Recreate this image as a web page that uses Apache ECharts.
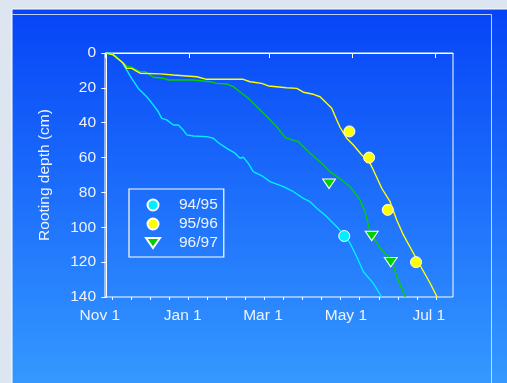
<!DOCTYPE html>
<html>
<head>
<meta charset="utf-8">
<script src="https://cdn.jsdelivr.net/npm/echarts@6/dist/echarts.min.js"></script>
<style>
  html, body { margin: 0; padding: 0; background: #dde6f0; }
  #chart { width: 507px; height: 383px; }
</style>
</head>
<body>
<div id="chart"></div>
<script>
// x: days counted from 1 November; y: rooting depth in cm
var tickLabels = ['Nov 1', 'Jan 1', 'Mar 1', 'May 1', 'Jul 1'];
var tickLabelDays = [0, 61, 120, 181, 242];
var majorTickDays = [-1, 61, 120, 181, 242];
var minorTickDays = [4.4, 18.4, 32.4, 46.4, 60.4, 74.4, 88.4, 102.4, 116.4, 130.4,
                     144.4, 158.4, 172.4, 186.4, 200.4, 214.4, 228.4, 242.4];

var seasons = ['94/95', '95/96', '96/97'];

// simulated rooting depth through the season
var line9495 = [
  [0, 0], [3.9, 0], [11.3, 5], [15, 9.8], [18.6, 14.5], [23.5, 20.3], [29.7, 25.1],
  [34.5, 29.8], [38.2, 33.7], [40.7, 37.5], [44.4, 38.4], [49.3, 41.3], [52.9, 41.3],
  [56.6, 44.2], [59.1, 47], [64, 47.6], [73.8, 48], [78.7, 48.9], [82.4, 51.5],
  [88.6, 54.7], [94.7, 57.5], [98.3, 60.4], [100.8, 59.8], [104.4, 63.3], [108.1, 68.1],
  [115.5, 71], [120.4, 73.8], [130.2, 76.7], [137.6, 79.6], [144.9, 83.4], [149.8, 85.3],
  [154.8, 89.1], [162.1, 93.9], [169.5, 99.7], [175.1, 104.4], [179.3, 109.2],
  [184.2, 116.9], [189.1, 125.5], [196.4, 132.2], [202.5, 140]
];
var line9596 = [
  [0, 0], [5.1, 1.1], [12.5, 5.9], [15, 8.8], [18.6, 8.8], [24.8, 11.6], [39.5, 12],
  [49.3, 12.6], [50.5, 13.2], [66.5, 13.6], [73.8, 15.1], [100.8, 15.1], [105.7, 16.5],
  [114.3, 17.4], [119.2, 18.9], [132.7, 19.9], [140.1, 20.3], [144.9, 22.5], [152.3, 23.7],
  [157.2, 25.1], [162.1, 28.9], [165.8, 31.7], [169.5, 38.4], [171.9, 42.6], [176.8, 48.9],
  [181.7, 52.8], [187.9, 58.5], [194, 63.3], [196.4, 67.1], [202.6, 77.6], [208.7, 85.3],
  [213.6, 95.8], [218.5, 104.4], [225.9, 114.9], [232, 123.5], [238.2, 132.1], [243.3, 140]
];
var line9697 = [
  [0, 0], [5.1, 1.1], [11.3, 5], [15, 7.5], [18.6, 8.2], [24.8, 10.7], [28.4, 10.7],
  [32.1, 12.6], [34.5, 13.9], [41.9, 14.5], [45.6, 15.5], [64, 15.5], [76.3, 16.5],
  [81.2, 17.4], [88.6, 17.8], [93.4, 19.3], [99.6, 23.1], [104.4, 26], [109.4, 29.8],
  [113.1, 32.7], [118, 36.5], [125.4, 42.3], [131.5, 48.6], [141.3, 50.9], [149.9, 57.5],
  [158.5, 63.3], [164.6, 68.1], [173.2, 72.9], [179.3, 76.7], [186.6, 84.3], [190.3, 91],
  [194, 102.5], [201.3, 112], [209.9, 118.8], [213.6, 128.3], [220, 140]
];

// measured rooting depth
var obs9495 = [[175, 105]];
var obs9596 = [[178.8, 45], [193.3, 60], [207, 90], [227.8, 120]];
var obs9697 = [[163.8, 75], [195.2, 105], [209.2, 120]];

var colCyan = '#00eeff', colYellow = '#ffff00', colGreen = '#00d000';
var textCol = '#eef3ff';
var fontFam = '"Liberation Sans", Arial, sans-serif';
var fs = 15.5;
var downTriangle = 'path://M0,0 L14,0 L7,10 Z';

var chart = echarts.init(document.getElementById('chart'), null, { renderer: 'canvas' });

function lineSeries(name, data, color) {
  return {
    name: name, type: 'line', data: data, showSymbol: false, symbol: 'none',
    lineStyle: { color: color, width: 1.4 }, itemStyle: { color: color },
    z: 2, animation: false, silent: true
  };
}
function obsSeries(name, data, color, symbol, size) {
  return {
    name: name, type: 'scatter', data: data, symbol: symbol, symbolSize: size,
    itemStyle: { color: color, borderColor: '#ffffff', borderWidth: 1, opacity: 1 },
    z: 4, animation: false
  };
}

chart.setOption({
  animation: false,
  backgroundColor: '#dde6f0',
  graphic: [
    {
      type: 'rect', z: -10, silent: true,
      shape: { x: 12, y: 9, width: 496, height: 375 },
      style: {
        fill: new echarts.graphic.LinearGradient(0, 0, 0, 1, [
          { offset: 0, color: '#0644f7' },
          { offset: 1, color: '#3499ff' }
        ]),
        stroke: '#ffffff', lineWidth: 1
      }
    },
    {
      type: 'polyline', z: -9, silent: true,
      shape: { points: [[12.5, 14.5], [491.5, 14.5], [491.5, 384]] },
      style: { stroke: 'rgba(220,232,255,0.85)', lineWidth: 1, fill: null }
    }
  ],
  grid: {
    left: 105, right: 54, top: 53, bottom: 86,
    show: true, borderColor: '#ffffff', borderWidth: 1, backgroundColor: 'transparent'
  },
  legend: {
    data: [
      { name: seasons[0], icon: 'circle' },
      { name: seasons[1], icon: 'circle' },
      { name: seasons[2], icon: downTriangle }
    ],
    orient: 'vertical', left: 129, top: 189,
    itemWidth: 14, itemHeight: 11, itemGap: 3,
    padding: [8, 6, 6, 16],
    borderColor: '#ffffff', borderWidth: 1.2,
    textStyle: { color: textCol, fontSize: fs, fontFamily: fontFam, padding: [0, 0, 0, 14] },
    selectedMode: false
  },
  xAxis: [
    {
      type: 'value', min: -1, max: 255,
      axisLine: { show: true, lineStyle: { color: '#ffffff', width: 1 } },
      splitLine: { show: false },
      axisTick: { show: true, inside: false, length: 5, customValues: majorTickDays,
                  lineStyle: { color: '#ffffff', width: 1 } },
      axisLabel: {
        customValues: tickLabelDays, color: textCol, fontSize: fs, fontFamily: fontFam,
        margin: 11, padding: [0, 13, 0, 0],
        formatter: function (v) {
          var i = tickLabelDays.indexOf(v);
          return i >= 0 ? tickLabels[i] : '';
        }
      }
    },
    {
      type: 'value', min: -1, max: 255, position: 'bottom', gridIndex: 0,
      axisLine: { show: false },
      splitLine: { show: false },
      axisLabel: { show: false },
      axisTick: { show: true, inside: false, length: 3, customValues: minorTickDays,
                  lineStyle: { color: '#ffffff', width: 1 } }
    }
  ],
  yAxis: {
    type: 'value', inverse: true, min: 0, max: 140, interval: 20,
    name: 'Rooting depth (cm)', nameLocation: 'middle', nameGap: 52, nameRotate: 90,
    nameTextStyle: { color: textCol, fontSize: fs, fontFamily: fontFam },
    axisLine: { show: true, lineStyle: { color: '#ffffff', width: 1 } },
    splitLine: { show: false },
    axisTick: { show: true, length: 5, lineStyle: { color: '#ffffff', width: 1 } },
    axisLabel: { color: textCol, fontSize: fs, fontFamily: fontFam, margin: 9 }
  },
  series: [
    lineSeries('depth 94/95', line9495, colCyan),
    lineSeries('depth 96/97', line9697, colGreen),
    lineSeries('depth 95/96', line9596, colYellow),
    obsSeries(seasons[0], obs9495, colCyan, 'circle', 11),
    obsSeries(seasons[1], obs9596, colYellow, 'circle', 11),
    obsSeries(seasons[2], obs9697, colGreen, downTriangle, [13, 9.5])
  ]
});
</script>
</body>
</html>
